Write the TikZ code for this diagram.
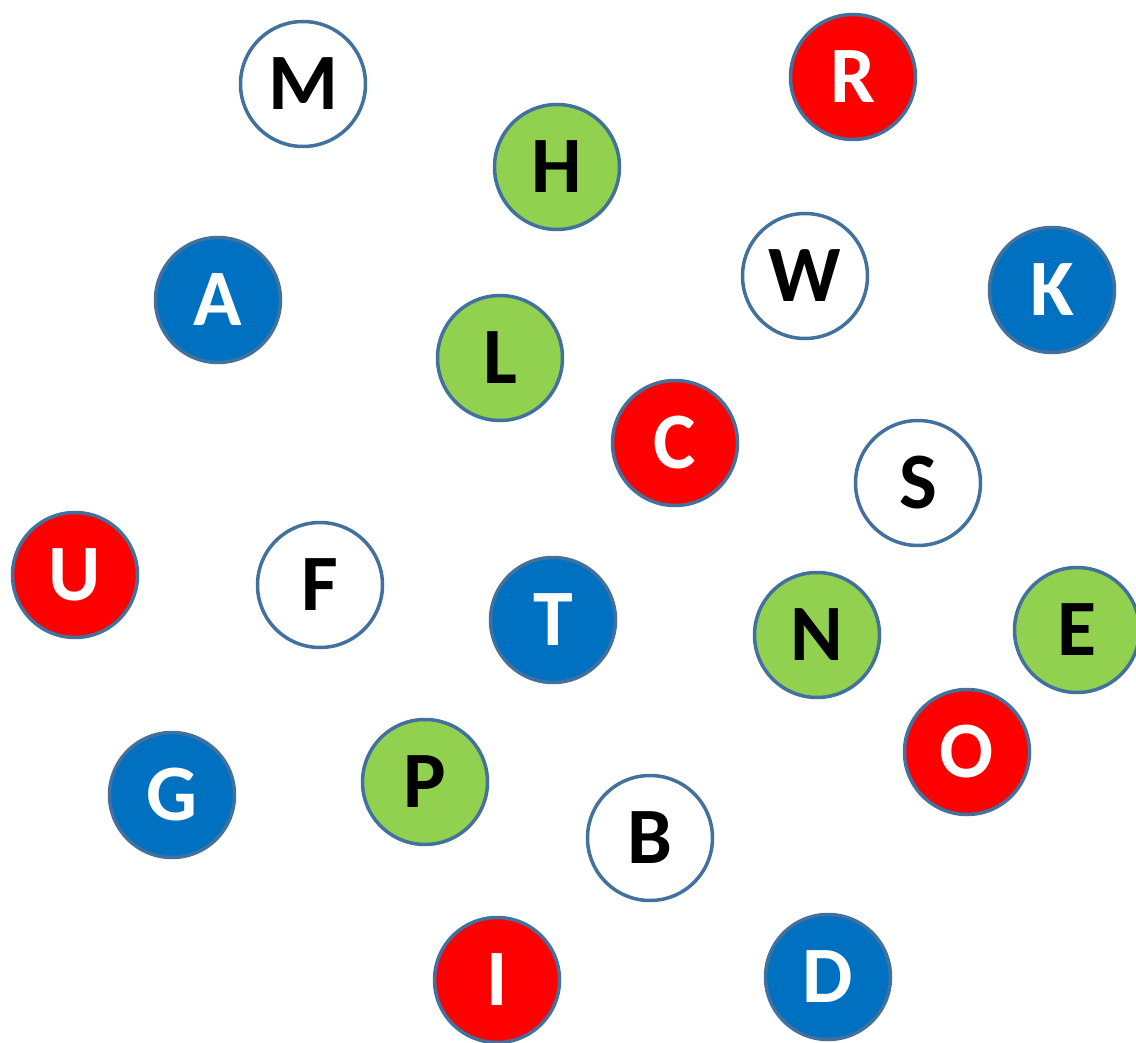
\documentclass[tikz,border=0pt]{standalone}
\usepackage{fontspec}
\setmainfont{Carlito}
\usepackage{xcolor}
\definecolor{rimblue}{HTML}{41719C}
\definecolor{dotblue}{HTML}{0070C0}
\definecolor{dotred}{HTML}{FF0000}
\definecolor{dotgreen}{HTML}{92D050}

\begin{document}
\begin{tikzpicture}[
    x=1pt, y=-1pt,
    dot/.style={circle, draw=rimblue, line width=3.5pt, minimum size=125pt, inner sep=0pt,
                font=\fontsize{80}{80}\selectfont\bfseries},
    bluedot/.style={dot, fill=dotblue, text=white},
    reddot/.style={dot, fill=dotred, text=white},
    greendot/.style={dot, fill=dotgreen, text=black},
    whitedot/.style={dot, fill=white, text=black}
]
\useasboundingbox (0,0) rectangle (1136,1043);

% Top row
\node[whitedot] (m) at (303,84) {M};
\node[reddot] (r) at (853,77) {R};
\node[greendot] (h) at (557,167) {H};

% Upper middle
\node[bluedot] (a) at (218,300) {A};
\node[whitedot] (w) at (805,276) {W};
\node[bluedot] (k) at (1052,290) {K};
\node[greendot] (l) at (500,358) {L};
\node[reddot] (c) at (675,443) {C};
\node[whitedot] (s) at (918,483) {S};

% Middle row
\node[reddot] (u) at (75,575) {U};
\node[whitedot] (f) at (320,585) {F};
\node[bluedot] (t) at (553,620) {T};
\node[greendot] (n) at (817,635) {N};
\node[greendot] (e) at (1077,630) {E};

% Lower part
\node[reddot] (o) at (967,752) {O};
\node[bluedot] (g) at (172,795) {G};
\node[greendot] (p) at (425,782) {P};
\node[whitedot] (b) at (650,838) {B};
\node[reddot] (i) at (497,980) {I};
\node[bluedot] (d) at (828,977) {D};

\end{tikzpicture}
\end{document}
